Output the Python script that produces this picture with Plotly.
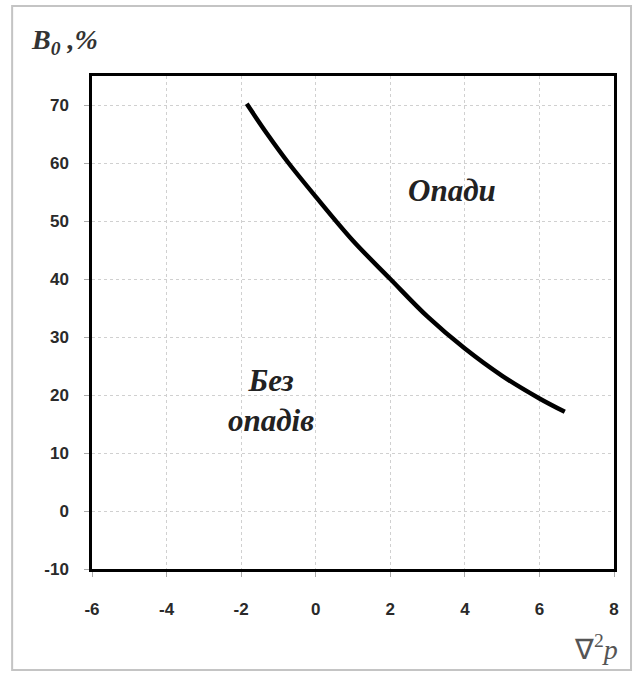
import plotly.graph_objects as go

# Boundary curve: B0 (%) vs Laplacian of pressure
x_vals = [-1.85, -1.3, -0.73, 0.0, 1.0, 2.0, 3.0, 4.0, 5.0, 6.0, 6.68]
b0_vals = [70.2, 65.0, 60.0, 54.2, 46.6, 40.0, 33.5, 28.0, 23.3, 19.4, 17.1]

x_ticks = [-6, -4, -2, 0, 2, 4, 6, 8]
y_ticks = [-10, 0, 10, 20, 30, 40, 50, 60, 70]

label_rain = "Опади"
label_norain = "Без<br>опадів"
y_title = "B<sub>0</sub> ,%"
x_title = "∇<sup>2</sup><i>p</i>"

fig = go.Figure()
fig.add_trace(go.Scatter(
    x=x_vals, y=b0_vals, mode="lines",
    line=dict(color="black", width=4.5, shape="spline", smoothing=1.0),
    showlegend=False, hoverinfo="skip"))

serif = "Liberation Serif, Times New Roman, serif"
sans = "Liberation Sans, Arial, sans-serif"

fig.update_layout(
    width=636, height=673,
    margin=dict(l=92, r=22, t=76, b=104),
    paper_bgcolor="white", plot_bgcolor="white",
    font=dict(family=sans, size=17, color="#2a2a2a"),
    xaxis=dict(range=[-6, 8], tickvals=x_ticks, ticktext=[f"<b>{v}</b>" for v in x_ticks],
               showgrid=True, gridcolor="#d0d0d0", griddash="dot", gridwidth=1,
               showline=True, linecolor="black", linewidth=2.5, mirror=True,
               ticks="outside", ticklen=5, tickcolor="#aaa", zeroline=False,
               ticklabelstandoff=18),
    yaxis=dict(range=[-10, 75], tickvals=y_ticks, ticktext=[f"<b>{v}</b>" for v in y_ticks],
               showgrid=True, gridcolor="#d0d0d0", griddash="dot", gridwidth=1,
               showline=True, linecolor="black", linewidth=2.5, mirror=True,
               ticks="outside", ticklen=5, tickcolor="#aaa", zeroline=False,
               ticklabelstandoff=12),
    shapes=[dict(type="rect", xref="paper", yref="paper",
                 x0=-0.153, x1=1.0326, y0=-0.205, y1=1.142,
                 line=dict(color="#c4c4c4", width=2), fillcolor="rgba(0,0,0,0)", layer="below")],
    annotations=[
        dict(x=3.65, y=55.3, xref="x", yref="y", text=f"<b><i>{label_rain}</i></b>",
             showarrow=False, font=dict(family=serif, size=31, color="#222")),
        dict(x=-1.2, y=19.0, xref="x", yref="y", text=f"<b><i>{label_norain}</i></b>",
             showarrow=False, font=dict(family=serif, size=31, color="#222")),
        dict(x=-0.12, y=1.069, xref="paper", yref="paper", text=f"<b><i>{y_title}</i></b>",
             showarrow=False, xanchor="left", yanchor="middle",
             font=dict(family=serif, size=28, color="#333")),
        dict(x=1.012, y=-0.16, xref="paper", yref="paper", text=x_title,
             showarrow=False, xanchor="right", yanchor="middle",
             font=dict(family=serif, size=28, color="#555")),
    ],
)

fig.write_html("out.html", config={"displayModeBar": False},
               post_script="document.body.style.margin='0';document.body.style.overflow='hidden';")
